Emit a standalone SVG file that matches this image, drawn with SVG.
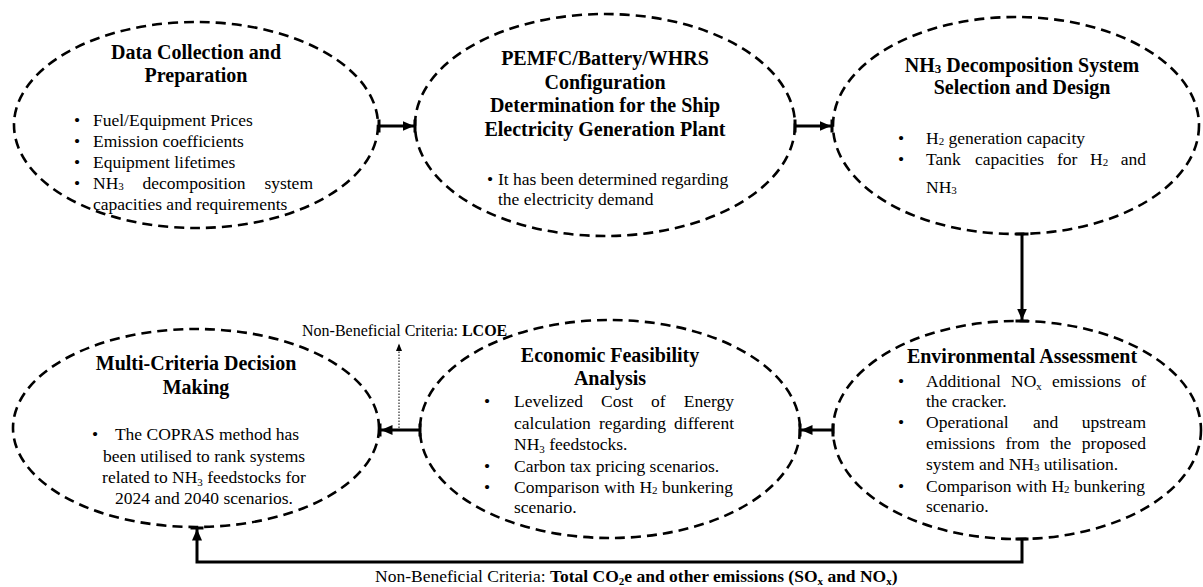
<svg xmlns="http://www.w3.org/2000/svg" width="1203" height="587" viewBox="0 0 1203 587">
<style>
ellipse.shape{fill:none;stroke:#000;stroke-width:2.6;stroke-dasharray:10 6}
text{font-family:"Liberation Serif","Times New Roman",serif;fill:#000}
.t{font-size:20px;font-weight:bold;text-anchor:middle}
.b{font-size:17.5px}
.d{font-size:17.5px;text-anchor:middle}
.e{text-anchor:end}
.lbl{font-size:16px}
.lbl2{font-size:17.5px}
.con{fill:none;stroke:#000;stroke-width:3}
</style>
<defs>
<marker id="arr" markerUnits="userSpaceOnUse" markerWidth="15" markerHeight="16" viewBox="0 0 15 16" refX="12.5" refY="8" orient="auto">
<path d="M0,3 L11.5,8 L0,13 z" fill="#000"/>
<rect x="11" y="1.5" width="3" height="13" fill="#000"/>
</marker>
<marker id="bar" markerUnits="userSpaceOnUse" markerWidth="4" markerHeight="16" viewBox="0 0 4 16" refX="2" refY="8" orient="auto">
<rect x="0.5" y="1.5" width="3" height="13" fill="#000"/>
</marker>
<marker id="sm" markerUnits="userSpaceOnUse" markerWidth="8" markerHeight="8" viewBox="0 0 8 8" refX="7" refY="4" orient="auto">
<path d="M0,1 L7.5,4 L0,7 z" fill="#000"/>
</marker>
</defs>

<g id="connectors">
<path class="con" d="M379,126 H415" marker-start="url(#bar)" marker-end="url(#arr)"/>
<path class="con" d="M795,126 H832" marker-start="url(#bar)" marker-end="url(#arr)"/>
<path class="con" d="M1022,234 V321" marker-start="url(#bar)" marker-end="url(#arr)"/>
<path class="con" d="M833,430 H800" marker-start="url(#bar)" marker-end="url(#arr)"/>
<path class="con" d="M420,430 H380" marker-start="url(#bar)" marker-end="url(#arr)"/>
<path class="con" stroke-width="3.5" d="M1022,539 V562 H197 V528" marker-start="url(#bar)" marker-end="url(#arr)"/>
<path fill="none" stroke="#000" stroke-width="1" stroke-dasharray="1.5 1.5" d="M399,428 V344" marker-end="url(#sm)"/>
<text class="lbl" x="302" y="336">Non-Beneficial Criteria: <tspan font-weight="bold">LCOE</tspan></text>
<text class="lbl2" x="375" y="582">Non-Beneficial Criteria: <tspan font-weight="bold">Total CO<tspan font-size="11" dy="3">2</tspan><tspan dy="-3">e and other emissions (SO</tspan><tspan font-size="11" dy="3">x</tspan><tspan dy="-3">  and NO</tspan><tspan font-size="11" dy="3">x</tspan><tspan dy="-3">)</tspan></tspan></text>
</g>

<g id="node-data">
<ellipse class="shape" cx="196" cy="125" rx="182" ry="103"/>
<text class="t" x="196" y="59">Data Collection and</text>
<text class="t" x="196" y="82">Preparation</text>
<text class="d" x="77" y="126">•</text>
<text class="d" x="77" y="147">•</text>
<text class="d" x="77" y="168">•</text>
<text class="d" x="77" y="189">•</text>
<text class="b" x="93" y="126">Fuel/Equipment Prices</text>
<text class="b" x="93" y="147">Emission coefficients</text>
<text class="b" x="93" y="168">Equipment lifetimes</text>
<text class="b" x="93" y="189">NH<tspan font-size="11" dy="1">3</tspan></text>
<text class="b" x="142.5" y="189">decomposition</text>
<text class="b e" x="313" y="189">system</text>
<text class="b" x="93" y="210">capacities and requirements</text>
</g>

<g id="node-pemfc">
<ellipse class="shape" cx="605" cy="125" rx="190" ry="111"/>
<text class="t" x="605" y="65">PEMFC/Battery/WHRS</text>
<text class="t" x="605" y="89">Configuration</text>
<text class="t" x="605" y="112">Determination for the Ship</text>
<text class="t" x="605" y="136">Electricity Generation Plant</text>
<text class="d" x="490" y="185">•</text>
<text class="b" x="498" y="185">It has been determined regarding</text>
<text class="b" x="498" y="205">the electricity demand</text>
</g>

<g id="node-nh3">
<ellipse class="shape" cx="1016" cy="125.5" rx="183" ry="108.5"/>
<text class="t" x="1022" y="72">NH<tspan font-size="13" dy="1">3</tspan><tspan dy="-1"> Decomposition System</tspan></text>
<text class="t" x="1022" y="94">Selection and Design</text>
<text class="d" x="901" y="144">•</text>
<text class="d" x="901" y="165">•</text>
<text class="b" x="926" y="144">H<tspan font-size="11" dy="1">2</tspan><tspan dy="-1"> generation capacity</tspan></text>
<text class="b" x="926" y="165">Tank</text>
<text class="b" x="975" y="165">capacities</text>
<text class="b" x="1057" y="165">for</text>
<text class="b" x="1090" y="165">H<tspan font-size="11" dy="1">2</tspan></text>
<text class="b e" x="1146" y="165">and</text>
<text class="b" x="926" y="193">NH<tspan font-size="11" dy="1">3</tspan></text>
</g>

<g id="node-env">
<ellipse class="shape" cx="1017" cy="430" rx="184" ry="109"/>
<text class="t" x="1022" y="363">Environmental Assessment</text>
<text class="d" x="901" y="387">•</text>
<text class="d" x="901" y="428">•</text>
<text class="d" x="901" y="492">•</text>
<text class="b" x="926" y="387">Additional</text>
<text class="b" x="1011" y="387">NO<tspan font-size="11" dy="3">x</tspan></text>
<text class="b" x="1052" y="387">emissions</text>
<text class="b e" x="1146" y="387">of</text>
<text class="b" x="926" y="407">the cracker.</text>
<text class="b" x="926" y="428">Operational</text>
<text class="b" x="1033" y="428">and</text>
<text class="b e" x="1146" y="428">upstream</text>
<text class="b" x="926" y="449">emissions</text>
<text class="b" x="1005.5" y="449">from</text>
<text class="b" x="1050" y="449">the</text>
<text class="b e" x="1146" y="449">proposed</text>
<text class="b" x="926" y="470">system and NH<tspan font-size="11" dy="1">3</tspan><tspan dy="-1"> utilisation.</tspan></text>
<text class="b" x="926" y="492">Comparison with H<tspan font-size="11" dy="1">2</tspan><tspan dy="-1"> bunkering</tspan></text>
<text class="b" x="926" y="512">scenario.</text>
</g>

<g id="node-econ">
<ellipse class="shape" cx="610" cy="429" rx="190" ry="109"/>
<text class="t" x="610" y="362">Economic Feasibility</text>
<text class="t" x="610" y="385">Analysis</text>
<text class="d" x="487" y="407">•</text>
<text class="d" x="487" y="472">•</text>
<text class="d" x="487" y="493">•</text>
<text class="b" x="514" y="407">Levelized</text>
<text class="b" x="601" y="407">Cost</text>
<text class="b" x="651" y="407">of</text>
<text class="b e" x="734" y="407">Energy</text>
<text class="b" x="514" y="429">calculation</text>
<text class="b" x="599" y="429">regarding</text>
<text class="b e" x="734" y="429">different</text>
<text class="b" x="514" y="450">NH<tspan font-size="11" dy="3">3</tspan><tspan dy="-3"> feedstocks.</tspan></text>
<text class="b" x="514" y="472">Carbon tax pricing scenarios.</text>
<text class="b" x="514" y="493">Comparison with H<tspan font-size="11" dy="1">2</tspan><tspan dy="-1"> bunkering</tspan></text>
<text class="b" x="514" y="513">scenario.</text>
</g>

<g id="node-mcdm">
<ellipse class="shape" cx="196" cy="428" rx="183" ry="99"/>
<text class="t" x="196" y="370">Multi-Criteria Decision</text>
<text class="t" x="196" y="394">Making</text>
<text class="d" x="95" y="440">•</text>
<text class="d" x="207" y="440">The COPRAS method has</text>
<text class="d" x="204" y="462">been utilised to rank systems</text>
<text class="d" x="204" y="483">related to NH<tspan font-size="11" dy="3">3</tspan><tspan dy="-3"> feedstocks for</tspan></text>
<text class="d" x="204" y="504">2024 and 2040 scenarios.</text>
</g>
</svg>
